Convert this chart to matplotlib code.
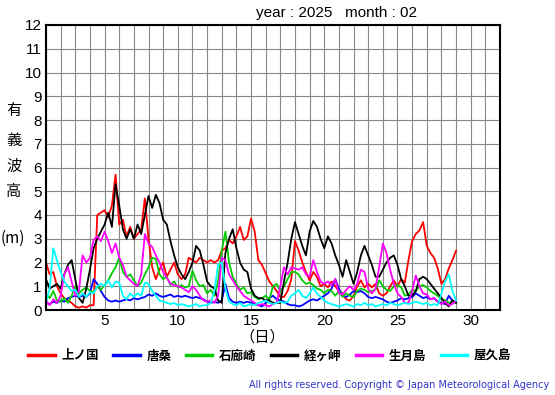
import numpy as np
import matplotlib
matplotlib.use("Agg")
import matplotlib.pyplot as plt

plt.rcParams['font.family'] = ['Liberation Sans', 'Noto Sans CJK JP', 'DejaVu Sans']

# 有義波高 (m), 6時間ごとに読み取り, 2/1 00時 ～ 2/29 00時
stations = ["上ノ国", "唐桑", "石廊崎", "経ヶ岬", "生月島", "屋久島"]
colors = ["#ff0000", "#0000ff", "#00cc00", "#000000", "#ff00ff", "#00ffff"]

kaminokuni = [2.0, 1.5, 1.6, 1.0,  0.7, 0.5, 0.4, 0.3,  0.15, 0.1, 0.15, 0.1,
              0.2, 0.2, 4.0, 4.1,  4.2, 3.9, 4.4, 5.7,  3.6, 3.8, 3.1, 3.5,
              3.0, 3.2, 3.4, 4.7,  3.0, 1.8, 1.3, 1.7,  2.0, 1.4, 1.7, 2.0,
              1.5, 1.3, 1.5, 2.2,  2.1, 2.0, 2.2, 2.1,  2.0, 2.1, 2.0, 2.1,
              2.5, 2.6, 2.95, 2.8,  3.1, 3.5, 2.95, 3.1,  3.85, 3.3, 2.1, 1.9,
              1.55, 1.2, 1.0, 0.8,  0.55, 0.55, 0.8, 1.3,  2.9, 2.5, 2.0, 1.6,
              1.25, 1.6, 1.4, 1.0,  1.1, 0.95, 1.2, 1.0,  0.8, 0.7, 0.45, 0.4,
              0.6, 1.0, 1.25, 0.95,  1.1, 0.95, 1.1, 0.7,  0.6, 0.7, 1.0, 1.25,
              1.0, 1.3, 1.15, 2.1,  2.9, 3.2, 3.35, 3.7,  2.7, 2.4, 2.2, 1.75,
              1.1, 1.3, 1.75, 2.1,  2.5]
karakuwa = [0.3, 0.25, 0.35, 0.3,  0.4, 0.35, 0.5, 0.55,  0.6, 0.55, 0.6, 0.55,
            0.7, 1.3, 1.1, 0.8,  0.55, 0.4, 0.35, 0.4,  0.35, 0.4, 0.45, 0.4,
            0.5, 0.45, 0.5, 0.55,  0.65, 0.6, 0.7, 0.6,  0.55, 0.6, 0.65, 0.55,
            0.6, 0.55, 0.6, 0.55,  0.5, 0.55, 0.5, 0.45,  0.35, 0.3, 0.35, 0.3,
            0.4, 1.1, 0.5, 0.35,  0.3, 0.35, 0.3, 0.35,  0.3, 0.25, 0.2, 0.15,
            0.3, 0.5, 0.6, 0.45,  0.4, 0.35, 0.25, 0.2,  0.2, 0.15, 0.2, 0.3,
            0.4, 0.45, 0.4, 0.5,  0.6, 0.7, 0.9, 1.3,  0.9, 0.6, 0.55, 0.65,
            0.8, 0.75, 0.8, 0.7,  0.55, 0.5, 0.55, 0.5,  0.45, 0.35, 0.3, 0.35,
            0.4, 0.5, 0.45, 0.5,  0.55, 0.7, 0.6, 0.5,  0.55, 0.45, 0.5, 0.35,
            0.3, 0.25, 0.6, 0.4,  0.3]
irozaki = [0.7, 0.5, 0.8, 0.4,  0.35, 0.5, 0.3, 0.6,  1.0, 0.7, 0.85, 0.95,
           0.8, 0.75, 1.0, 0.85,  1.05, 1.25, 1.55, 1.8,  2.2, 1.6, 1.4, 1.5,
           1.25, 1.0, 1.15, 1.5,  1.8, 2.2, 2.15, 1.5,  1.3, 1.4, 1.05, 1.2,
           0.95, 1.05, 0.95, 1.0,  1.65, 1.25, 1.0, 1.05,  0.7, 0.85, 0.6, 1.2,
           2.5, 3.3, 2.0, 1.4,  1.1, 0.85, 0.95, 0.7,  0.75, 0.55, 0.45, 0.5,
           0.6, 0.45, 1.0, 1.1,  0.8, 1.0, 1.3, 1.6,  1.6, 1.5, 1.25, 1.1,
           1.15, 1.05, 0.9, 0.85,  0.7, 0.85, 0.8, 0.6,  0.8, 0.55, 0.7, 0.6,
           0.55, 0.8, 0.9, 0.85,  0.75, 0.8, 0.85, 1.25,  1.0, 0.85, 0.8, 1.0,
           1.05, 0.95, 0.6, 0.65,  0.85, 0.8, 1.0, 1.05,  0.95, 0.8, 0.7, 0.6,
           0.45, 0.4, 0.3, 0.35,  0.3]
kyogamisaki = [1.3, 0.9, 1.0, 1.1,  0.9, 1.5, 1.9, 2.1,  1.3, 0.5, 0.3, 0.9,
               1.7, 2.6, 3.0, 3.3,  3.6, 4.1, 3.5, 5.3,  4.4, 3.4, 3.0, 3.4,
               3.0, 3.6, 3.2, 4.0,  4.8, 4.3, 4.85, 4.5,  3.8, 3.6, 2.9, 2.3,
               1.8, 1.5, 1.3, 1.6,  2.0, 2.7, 2.5, 1.9,  1.2, 1.0, 0.9, 0.4,
               0.3, 2.4, 3.0, 3.4,  2.6, 2.0, 1.7, 1.6,  0.9, 0.6, 0.5, 0.5,
               0.4, 0.4, 0.3, 0.3,  0.3, 1.2, 2.0, 3.0,  3.7, 3.2, 2.7, 2.3,
               3.3, 3.75, 3.5, 3.0,  2.6, 3.1, 2.8, 2.3,  1.9, 1.4, 2.1, 1.6,
               1.1, 1.6, 2.3, 2.7,  2.3, 1.9, 1.4, 1.4,  1.7, 2.0, 2.2, 2.3,
               1.9, 1.3, 1.0, 0.6,  0.6, 0.8, 1.3, 1.4,  1.3, 1.1, 0.9, 0.7,
               0.5, 0.3, 0.15, 0.4,  0.3]
ikitsuki = [0.4, 0.2, 0.45, 0.3,  0.6, 1.5, 1.8, 1.2,  0.6, 0.8, 2.3, 2.0,
            2.2, 2.95, 3.1, 2.9,  3.3, 2.9, 2.4, 2.8,  2.2, 1.9, 1.4, 1.25,
            1.1, 1.0, 1.5, 3.2,  2.8, 2.65, 2.3, 2.0,  1.6, 1.35, 1.1, 1.05,
            1.0, 0.95, 0.85, 0.75,  1.0, 0.85, 0.6, 0.4,  0.35, 0.4, 0.3, 0.6,
            2.2, 2.1, 1.5, 1.25,  1.0, 0.8, 0.6, 0.5,  0.4, 0.3, 0.2, 0.25,
            0.2, 0.15, 0.25, 0.3,  1.0, 1.8, 1.5, 1.8,  1.75, 1.7, 1.8, 1.5,
            1.4, 2.1, 1.6, 1.2,  1.1, 1.2, 1.05, 1.3,  0.7, 0.65, 0.85, 1.0,
            0.85, 1.1, 1.7, 1.6,  0.9, 0.7, 0.9, 1.8,  2.8, 2.4, 1.7, 1.1,
            0.7, 0.55, 0.3, 0.3,  0.8, 1.45, 1.0, 0.7,  0.65, 0.45, 0.5, 0.35,
            0.25, 0.35, 0.2, 0.25,  0.4]
yakushima = [0.3, 0.9, 2.6, 2.1,  1.6, 1.2, 1.0, 0.8,  0.85, 0.55, 0.7, 0.55,
             0.75, 0.7, 1.0, 1.1,  1.0, 1.25, 0.95, 1.2,  1.15, 0.6, 0.45, 0.7,
             0.55, 0.7, 0.6, 1.15,  1.1, 0.8, 0.6, 0.4,  0.35, 0.3, 0.25, 0.3,
             0.2, 0.25, 0.2, 0.15,  0.2, 0.25, 0.15, 0.2,  0.2, 0.3, 0.8, 1.9,
             2.0, 0.9, 0.35, 0.25,  0.2, 0.3, 0.15, 0.2,  0.25, 0.2, 0.3, 0.35,
             0.4, 0.3, 0.25, 0.3,  0.35, 0.3, 0.35, 0.6,  0.7, 0.85, 0.6, 0.5,
             0.7, 0.95, 0.7, 0.55,  0.4, 0.3, 0.25, 0.2,  0.15, 0.2, 0.25, 0.2,
             0.15, 0.25, 0.2, 0.3,  0.2, 0.25, 0.15, 0.2,  0.25, 0.2, 0.3, 0.25,
             0.2, 0.25, 0.3, 0.25,  0.3, 0.35, 0.3, 0.25,  0.3, 0.2, 0.25, 0.2,
             0.7, 1.2, 1.5, 0.8,  0.4]

series = [kaminokuni, karakuwa, irozaki, kyogamisaki, ikitsuki, yakushima]

fig = plt.figure(figsize=(5.55, 3.95), dpi=100)
ax = fig.add_axes([46/555, 85/395, 454/555, 285/395])

lines = []
for name, vals, col in zip(stations, series, colors):
    t = 1 + 0.25*np.arange(len(vals))
    ln, = ax.plot(t, vals, color=col, lw=1.3, label=name)
    lines.append(ln)

ax.set_xlim(1, 32)
ax.set_ylim(0, 12)
ax.set_xticks(np.arange(1, 33), minor=True)
ax.set_xticks([5, 10, 15, 20, 25, 30])
ax.set_yticks(np.arange(0, 13))
ax.grid(True, which='both', color='#888888', lw=0.8)
ax.set_axisbelow(True)
ax.tick_params(which='both', length=0, labelsize=11, pad=3)
for s in ax.spines.values():
    s.set_linewidth(1.5)

fig.text(336/555, 1 - 13/395, "year : 2025   month : 02", ha='center', va='center', fontsize=11)

# 縦書きの軸ラベル
for ch, y in zip(["有", "義", "波", "高"], [110, 140, 166, 192]):
    fig.text(14/555, 1 - y/395, ch, ha='center', va='center', fontsize=11,
             family=['Noto Sans CJK JP', 'DejaVu Sans'])
fig.text(13/555, 1 - 238/395, "(m)", ha='center', va='center', fontsize=11,
         family=['Noto Sans CJK JP', 'DejaVu Sans'])

fig.text(262/555, 1 - 337/395, "（日）", ha='center', va='center', fontsize=11,
         family=['Noto Sans CJK JP', 'DejaVu Sans'])

fig.legend(handles=lines, loc='center', bbox_to_anchor=(270/555, 1 - 356/395), ncol=6,
           frameon=False, handlelength=2.1, handletextpad=0.55, columnspacing=1.15,
           prop={'family': ['Noto Sans CJK JP'], 'size': 9, 'weight': 'bold'})
for ln in fig.legends[0].get_lines():
    ln.set_linewidth(2.5)

fig.text(549/555, 1 - 385/395, "All rights reserved. Copyright © Japan Meteorological Agency",
         ha='right', va='center', fontsize=7, color='#3333cc', family='DejaVu Sans')

fig.savefig("out.png", dpi=100)
